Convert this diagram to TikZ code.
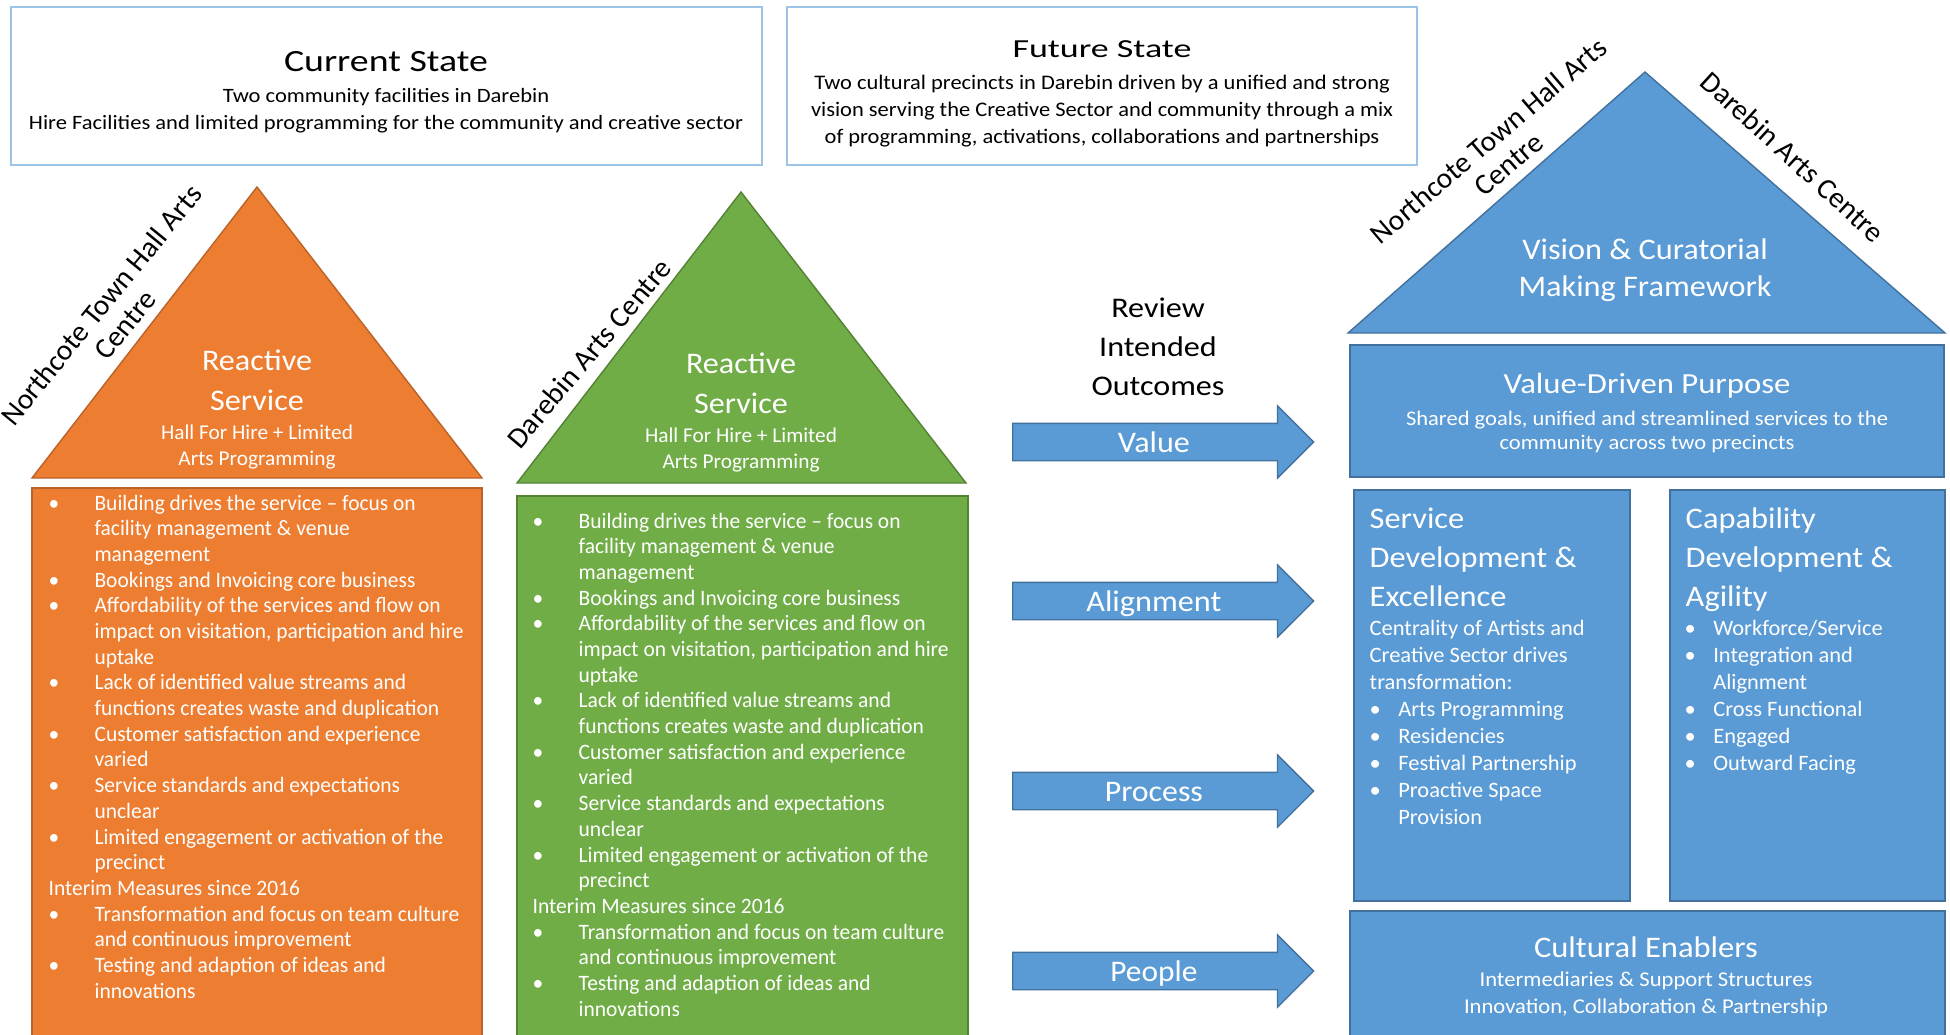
\documentclass[tikz,border=0pt]{standalone}
\usepackage{fontspec}
\setmainfont{Carlito}
\usepackage{graphicx}
\usepackage{tikz}
\usetikzlibrary{shapes.arrows}

\definecolor{myorange}{HTML}{ED7D31}
\definecolor{myorangeline}{HTML}{B9632A}
\definecolor{mygreen}{HTML}{70AD47}
\definecolor{mygreenline}{HTML}{548235}
\definecolor{myblue}{HTML}{5B9BD5}
\definecolor{myblueline}{HTML}{41719C}
\definecolor{myframe}{HTML}{9DC3E6}

\newcommand{\fsize}[2]{\fontsize{#1}{#2}\selectfont}
\newcommand{\fitw}[2]{\resizebox{#1}{\height}{#2}}
\newcommand{\linestack}[2][c]{\begin{tabular}[t]{@{}#1@{}}#2\end{tabular}}
\newcommand{\lbul}{\makebox[4.7mm][l]{\textbullet}}
\newcommand{\lind}{\hspace*{4.7mm}}
\newcommand{\sbul}{\makebox[2.8mm][l]{\textbullet}}
\newcommand{\sind}{\hspace*{2.8mm}}

\newcommand{\reactivelist}{\linestack[l]{%
\lbul Building drives the service -- focus on\\
\lind facility management \& venue\\
\lind management\\
\lbul Bookings and Invoicing core business\\
\lbul Affordability of the services and flow on\\
\lind impact on visitation, participation and hire\\
\lind uptake\\
\lbul Lack of identified value streams and\\
\lind functions creates waste and duplication\\
\lbul Customer satisfaction and experience\\
\lind varied\\
\lbul Service standards and expectations\\
\lind unclear\\
\lbul Limited engagement or activation of the\\
\lind precinct\\
Interim Measures since 2016\\
\lbul Transformation and focus on team culture\\
\lind and continuous improvement\\
\lbul Testing and adaption of ideas and\\
\lind innovations}}

\tikzset{
	statebox/.style={
			draw=myframe,
			line width=0.6pt,
			fill=white
		},
	orangeshape/.style={
			draw=myorangeline,
			line width=0.4pt,
			fill=myorange
		},
	greenshape/.style={
			draw=mygreenline,
			line width=0.4pt,
			fill=mygreen
		},
	blueshape/.style={
			draw=myblueline,
			line width=0.4pt,
			fill=myblue
		},
	txt/.style={
			inner sep=0pt,
			anchor=base,
			text=white
		},
	darktxt/.style={
			txt,
			text=black
		},
	lefttxt/.style={
			txt,
			anchor=base west
		},
	sidelabel/.style={
			inner sep=0pt,
			text=black,
			font=\fsize{8.3}{8.8}
		},
	blockarrow/.style={
			single arrow,
			draw=myblueline,
			line width=0.4pt,
			fill=myblue,
			text=white,
			font=\fsize{8.5}{10},
			minimum height=30.1mm,
			minimum width=7.1mm,
			single arrow head extend=1.75mm,
			single arrow tip angle=90,
			inner sep=0pt,
			text height=2.8mm,
			text depth=0.8mm,
			anchor=tail
		}
}

\begin{document}
\begin{tikzpicture}[x=0.1mm, y=-0.1mm]
  \useasboundingbox (0,0) rectangle (1950,1034);

  % current and future state
  \draw[statebox] (11,7) rectangle (762,165);
  \draw[statebox] (787,7) rectangle (1417,165);
  \node[darktxt, font=\fsize{8.8}{10}] (curtitle) at (386,71) {\fitw{20.4mm}{Current State}};
  \node[darktxt, font=\fsize{5.8}{7.7}] (curtext) at (386,102) {\fitw{71.4mm}{\linestack{Two community facilities in Darebin\\Hire Facilities and limited programming for the community and creative sector}}};
  \node[darktxt, font=\fsize{7.4}{9}] (futtitle) at (1102,57) {\fitw{17.9mm}{Future State}};
  \node[darktxt, font=\fsize{5.9}{7.7}] (futtext) at (1102,89) {\fitw{58.2mm}{\linestack{Two cultural precincts in Darebin driven by a unified and strong\\vision serving the Creative Sector and community through a mix\\of programming, activations, collaborations and partnerships}}};

  % northcote
  \draw[orangeshape] (32,478) -- (257,187) -- (482,478) -- cycle;
  \draw[orangeshape] (32,488) rectangle (482,1044);
  \node[sidelabel, rotate=50.8] (ntlabel) at (116,317) {\fitw{30mm}{\begin{tabular}{@{}c@{}}Northcote Town Hall Arts\\Centre\end{tabular}}};
  \node[txt, font=\fsize{8.5}{11.4}] (ntname) at (257,370) {\fitw{11mm}{\linestack{Reactive\\Service}}};
  \node[txt, font=\fsize{6}{7.4}] (ntsub) at (257,439) {\fitw{19.2mm}{\linestack{Hall For Hire + Limited\\Arts Programming}}};
  \node[lefttxt, font=\fsize{6.25}{7.31}] (ntlist) at (48,510) {\fitw{41.5mm}{\reactivelist}};

  % darebin
  \draw[greenshape] (517,483) -- (741,192) -- (966,483) -- cycle;
  \draw[greenshape] (517,496) rectangle (968,1044);
  \node[sidelabel, rotate=49.8] (dalabel) at (589,353) {\fitw{23.7mm}{Darebin Arts Centre}};
  \node[txt, font=\fsize{8.5}{11.4}] (daname) at (741,373) {\fitw{11mm}{\linestack{Reactive\\Service}}};
  \node[txt, font=\fsize{6}{7.4}] (dasub) at (741,442) {\fitw{19.2mm}{\linestack{Hall For Hire + Limited\\Arts Programming}}};
  \node[lefttxt, font=\fsize{6.25}{7.31}] (dalist) at (532,528) {\fitw{41.6mm}{\reactivelist}};

  % outcomes
  \node[darktxt, font=\fsize{8.1}{11.1}] (review) at (1158,317) {\fitw{13.3mm}{\linestack{Review\\Intended\\Outcomes}}};
  \node[blockarrow] (avalue) at (1012,442) {\fitw{7.2mm}{Value}};
  \node[blockarrow] (aalign) at (1012,601) {\fitw{13.5mm}{Alignment}};
  \node[blockarrow] (aprocess) at (1012,791) {\fitw{9.8mm}{Process}};
  \node[blockarrow] (apeople) at (1012,971) {\fitw{8.7mm}{People}};

  % future house
  \draw[blueshape] (1348,333) -- (1645,72) -- (1945,333) -- cycle;
  \draw[blueshape] (1350,345) rectangle (1944,477);
  \draw[blueshape] (1354,490) rectangle (1630,901);
  \draw[blueshape] (1670,490) rectangle (1945,901);
  \draw[blueshape] (1350,911) rectangle (1945,1044);
  \node[sidelabel, rotate=40.5] (rooflabel1) at (1501,155) {\fitw{30mm}{\begin{tabular}{@{}c@{}}Northcote Town Hall Arts\\Centre\end{tabular}}};
  \node[sidelabel, rotate=-42.4] (rooflabel2) at (1793,157) {\fitw{23.7mm}{Darebin Arts Centre}};
  \node[txt, font=\fsize{8.5}{10.8}] (vision) at (1645,259) {\fitw{25.3mm}{\linestack{Vision \& Curatorial\\Making Framework}}};
  \node[txt, font=\fsize{8.3}{10}] (purpose) at (1647,393) {\fitw{28.7mm}{Value-Driven Purpose}};
  \node[txt, font=\fsize{5.9}{7.1}] (purposetext) at (1647,425) {\fitw{48.2mm}{\linestack{Shared goals, unified and streamlined services to the\\community across two precincts}}};

  \node[lefttxt, font=\fsize{8.5}{11.1}] (servhead) at (1369,528) {\fitw{20.7mm}{\linestack[l]{Service\\Development \&\\Excellence}}};
  \node[lefttxt, font=\fsize{6.25}{7.7}] (servtext) at (1369,635) {\fitw{21.5mm}{\linestack[l]{Centrality of Artists and\\Creative Sector drives\\transformation:\\\sbul Arts Programming\\\sbul Residencies\\\sbul Festival Partnership\\\sbul Proactive Space\\\sind Provision}}};

  \node[lefttxt, font=\fsize{8.5}{11.1}] (caphead) at (1685,528) {\fitw{20.7mm}{\linestack[l]{Capability\\Development \&\\Agility}}};
  \node[lefttxt, font=\fsize{6.25}{7.7}] (captext) at (1684,635) {\fitw{19.8mm}{\linestack[l]{\sbul Workforce/Service\\\sbul Integration and\\\sind Alignment\\\sbul Cross Functional\\\sbul Engaged\\\sbul Outward Facing}}};

  \node[txt, font=\fsize{8.5}{10}] (enablers) at (1646,957) {\fitw{22.4mm}{Cultural Enablers}};
  \node[txt, font=\fsize{6}{7.8}] (enablerstext) at (1646,986) {\fitw{36.4mm}{\linestack{Intermediaries \& Support Structures\\Innovation, Collaboration \& Partnership}}};

\end{tikzpicture}
\end{document}
